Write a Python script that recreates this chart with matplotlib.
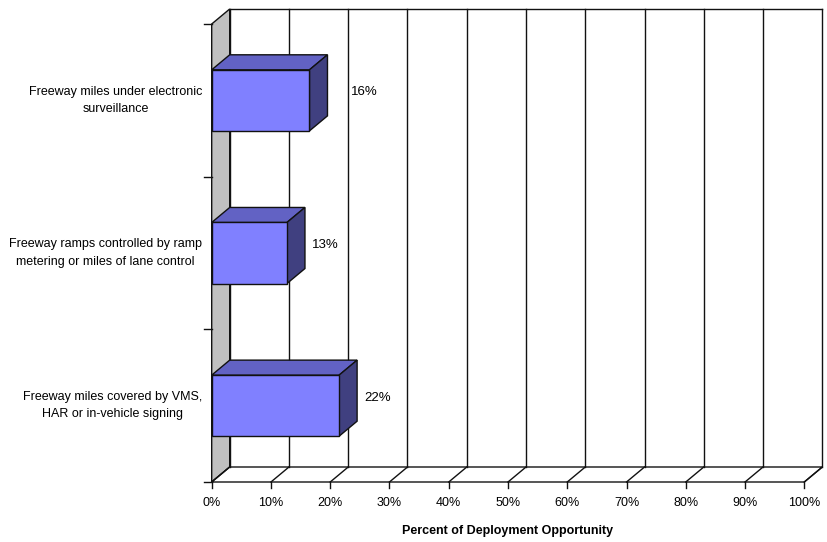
import matplotlib
matplotlib.use("Agg")
import matplotlib.pyplot as plt
from matplotlib.patches import Polygon

plt.rcParams["font.family"] = ["Liberation Sans", "DejaVu Sans"]

# data (bottom to top)
categories = [
    "Freeway miles covered by VMS,\nHAR or in-vehicle signing",
    "Freeway ramps controlled by ramp\nmetering or miles of lane control",
    "Freeway miles under electronic\nsurveillance",
]
values = [21.5, 12.7, 16.5]
value_labels = ["22%", "13%", "16%"]
xticks = list(range(0, 101, 10))

# extra shift (px) of each value label, as placed in the original
label_shift_px = [0, 0, 16]

FRONT = "#8080FF"
TOP = "#6262C4"
SIDE = "#404080"
WALL = "#C0C0C0"
EDGE = "#111111"

W, H = 827, 542
fig = plt.figure(figsize=(W / 100, H / 100), dpi=100)
x0, x1 = 211.7, 804.3
y0, y1 = 24.0, 482.0
ax = fig.add_axes([x0 / W, 1 - y1 / H, (x1 - x0) / W, (y1 - y0) / H])
ax.set_xlim(0, 100)
ax.set_ylim(-0.5, 2.5)
ax.axis("off")

px_x = (x1 - x0) / 100      # px per percent
px_y = (y1 - y0) / 3        # px per category
# depth offset in data units (18 px right, 15 px up)
DX = 18 / px_x
DY = 15 / px_y
ylo, yhi = -0.5, 2.5
kw = dict(clip_on=False, lw=1.0)

# left wall
ax.add_patch(Polygon([(0, ylo), (DX, ylo + DY), (DX, yhi + DY), (0, yhi)],
                     closed=True, fc=WALL, ec=EDGE, zorder=1, **kw))
# floor
ax.add_patch(Polygon([(0, ylo), (100, ylo), (100 + DX, ylo + DY), (DX, ylo + DY)],
                     closed=True, fc="white", ec=EDGE, zorder=1, **kw))
# back wall gridlines + floor diagonals + x ticks
for t in xticks:
    ax.plot([t + DX, t + DX], [ylo + DY, yhi + DY], color=EDGE, zorder=1, **kw)
    ax.plot([t, t + DX], [ylo, ylo + DY], color=EDGE, zorder=1, **kw)
    ax.plot([t, t], [ylo, ylo - 6 / px_y], color=EDGE, zorder=1, **kw)
    ax.text(t, ylo - 21 / px_y, f"{t}%", ha="center", va="center", fontsize=9)
ax.plot([DX, 100 + DX], [yhi + DY, yhi + DY], color=EDGE, zorder=1, **kw)

# y ticks on left front edge
for b in [-0.5, 0.5, 1.5, 2.5]:
    ax.plot([0, -8 / px_x], [b, b], color=EDGE, zorder=1, **kw)

# bars
hb = 0.2
for i, (v, lab) in enumerate(zip(values, value_labels)):
    ax.add_patch(Polygon([(0, i + hb), (v, i + hb), (v + DX, i + hb + DY), (DX, i + hb + DY)],
                         closed=True, fc=TOP, ec=EDGE, zorder=3, **kw))
    ax.add_patch(Polygon([(v, i - hb), (v + DX, i - hb + DY), (v + DX, i + hb + DY), (v, i + hb)],
                         closed=True, fc=SIDE, ec=EDGE, zorder=3, **kw))
    ax.add_patch(Polygon([(0, i - hb), (v, i - hb), (v, i + hb), (0, i + hb)],
                         closed=True, fc=FRONT, ec=EDGE, zorder=4, **kw))
    ax.text(v + (25 + label_shift_px[i]) / px_x, i + 8 / px_y, lab,
            ha="left", va="center", fontsize=9.5, zorder=5)

for i, c in enumerate(categories):
    ax.text(-9.5 / px_x, i, c, ha="right", va="center", multialignment="center",
            fontsize=9, linespacing=1.6)

ax.text(50, ylo - 49 / px_y, "Percent of Deployment Opportunity", ha="center",
        va="center", fontsize=9, fontweight="bold")

fig.savefig("out.png", dpi=100)
